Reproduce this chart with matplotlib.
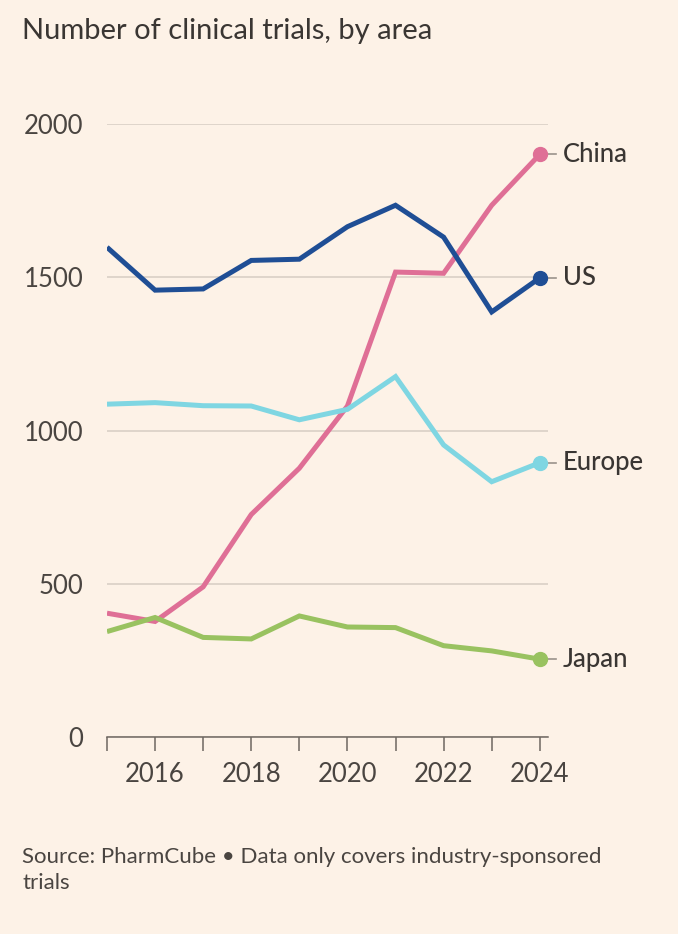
import matplotlib
matplotlib.use("Agg")
import matplotlib.pyplot as plt

plt.rcParams['font.family'] = ['Lato', 'DejaVu Sans']

# Datos
years = [2015, 2016, 2017, 2018, 2019, 2020, 2021, 2022, 2023, 2024]
china = [404, 377, 490, 726, 877, 1080, 1517, 1513, 1735, 1901]
us = [1598, 1458, 1462, 1555, 1559, 1665, 1735, 1631, 1387, 1498]
europe = [1086, 1091, 1081, 1080, 1035, 1069, 1176, 953, 833, 895]
japan = [344, 390, 325, 320, 395, 359, 357, 298, 281, 254]

series_names = ['China', 'US', 'Europe', 'Japan']
series_values = [china, us, europe, japan]
series_colors = ['#DF6F96', '#1F4E95', '#7FD6E2', '#99C260']

y_ticks = [0, 500, 1000, 1500, 2000]
x_ticks_major = [2016, 2018, 2020, 2022, 2024]

bg = '#FDF2E7'
text_col = '#3A3633'

fig = plt.figure(figsize=(6.78, 9.34), dpi=100, facecolor=bg)
ax = fig.add_axes([0.1578, 0.2109, 0.6504, 0.6563], facecolor=bg)

for name, vals, col in zip(series_names, series_values, series_colors):
    ax.plot(years, vals, color=col, lw=3.6, solid_capstyle='butt',
            solid_joinstyle='miter', zorder=3)
    ax.plot(years[-1], vals[-1], 'o', color=col, ms=10, zorder=4)
    # pequeña línea guía hacia la etiqueta
    ax.plot([years[-1] + 0.17, years[-1] + 0.33], [vals[-1], vals[-1]],
            color='#9A928B', lw=1.2, clip_on=False, zorder=2)
    ax.text(years[-1] + 0.48, vals[-1], name, color=text_col, fontsize=18.5,
            fontweight='medium', va='center', ha='left', clip_on=False)

ax.set_xlim(2015, 2024.17)
ax.set_ylim(0, 2000)

ax.set_yticks(y_ticks)
ax.set_yticklabels([str(v) for v in y_ticks])
ax.yaxis.grid(True, color='#DCD2C8', lw=1.3)
ax.set_axisbelow(True)
ax.tick_params(axis='y', length=0, pad=17, labelsize=18.5, labelcolor='#4A4541')

ax.set_xticks(years)
ax.set_xticklabels([str(y) if y in x_ticks_major else '' for y in years])
ax.tick_params(axis='x', length=10, width=1.1, color='#6E6761', pad=8,
               labelsize=18.5, labelcolor='#4A4541')

for s in ['left', 'right', 'top']:
    ax.spines[s].set_visible(False)
ax.spines['bottom'].set_color('#6E6761')
ax.spines['bottom'].set_linewidth(1.1)
ax.spines['bottom'].set_zorder(5)

fig.text(0.033, 0.981, 'Number of clinical trials, by area', color=text_col,
         fontsize=21, va='top', ha='left')
fig.text(0.033, 0.093, 'Source: PharmCube \u2022 Data only covers industry-sponsored\ntrials',
         color='#4A4541', fontsize=16, va='top', ha='left', linespacing=1.35)

fig.savefig('out.png', dpi=100, facecolor=bg)
